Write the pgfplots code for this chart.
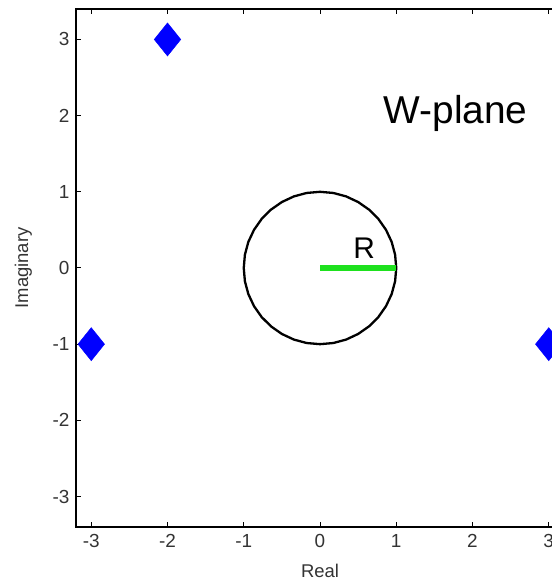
\documentclass[border=0pt]{standalone}
\usepackage{pgfplots}
\pgfplotsset{compat=1.18}
\usepackage{fontspec}
\setmainfont{Liberation Sans}
\definecolor{mgreen}{RGB}{30,225,30}
\begin{document}
\begin{tikzpicture}[x=1bp,y=1bp]
\useasboundingbox (0,0) rectangle (552,583);
\clip (0,0) rectangle (552,583);
\begin{axis}[
  at={(76bp,56bp)}, anchor=south west,
  scale only axis, width=488bp, height=518bp,
  xmin=-3.2, xmax=3.2, ymin=-3.4, ymax=3.4,
  axis line style={line width=1.1bp},
  tick style={line width=1bp, black},
  major tick length=5bp,
  tick align=inside,
  xtick={-3,-2,-1,0,1,2,3},
  xticklabels={{-3},{-2},{-1},{0},{1},{2},{3}},
  ytick={-3,-2,-1,0,1,2,3},
  yticklabels={{-3},{-2},{-1},{0},{1},{2},{3}},
  ticklabel style={font=\fontsize{19}{21}\selectfont, text=black!80},
  xticklabel style={yshift=-4bp},
  yticklabel style={xshift=-3bp},
  xlabel={Real}, ylabel={Imaginary},
  label style={font=\fontsize{18.5}{20}\selectfont, text=black!80},
  xlabel style={at={(axis description cs:0.5,-0.0849)}, anchor=center},
  ylabel style={at={(axis description cs:-0.108,0.5)}, anchor=center},
  clip=false,
]
\addplot[black, line width=2.3bp] coordinates {
(1,0) (0.985,0.174) (0.940,0.342) (0.866,0.5) (0.766,0.643) (0.643,0.766)
(0.5,0.866) (0.342,0.940) (0.174,0.985) (0,1) (-0.174,0.985) (-0.342,0.940)
(-0.5,0.866) (-0.643,0.766) (-0.766,0.643) (-0.866,0.5) (-0.940,0.342) (-0.985,0.174)
(-1,0) (-0.985,-0.174) (-0.940,-0.342) (-0.866,-0.5) (-0.766,-0.643) (-0.643,-0.766)
(-0.5,-0.866) (-0.342,-0.940) (-0.174,-0.985) (0,-1) (0.174,-0.985) (0.342,-0.940)
(0.5,-0.866) (0.643,-0.766) (0.766,-0.643) (0.866,-0.5) (0.940,-0.342) (0.985,-0.174)
(1,0)};
\addplot[mgreen, line width=5.5bp] coordinates {(0,0) (1,0)};
\addplot[only marks, mark=diamond*, mark size=16.5bp, mark options={fill=blue, draw=blue, line width=0.5bp, xscale=1.07}] coordinates {(-2,3) (-3,-1) (3,-1)};
\node[anchor=base west, inner sep=0, font=\fontsize{39}{43}\selectfont] at (axis cs:0.83,1.90) {W-plane};
\node[anchor=base, inner sep=0, font=\fontsize{30}{34}\selectfont] at (axis cs:0.58,0.12) {R};
\end{axis}
\end{tikzpicture}
\end{document}
